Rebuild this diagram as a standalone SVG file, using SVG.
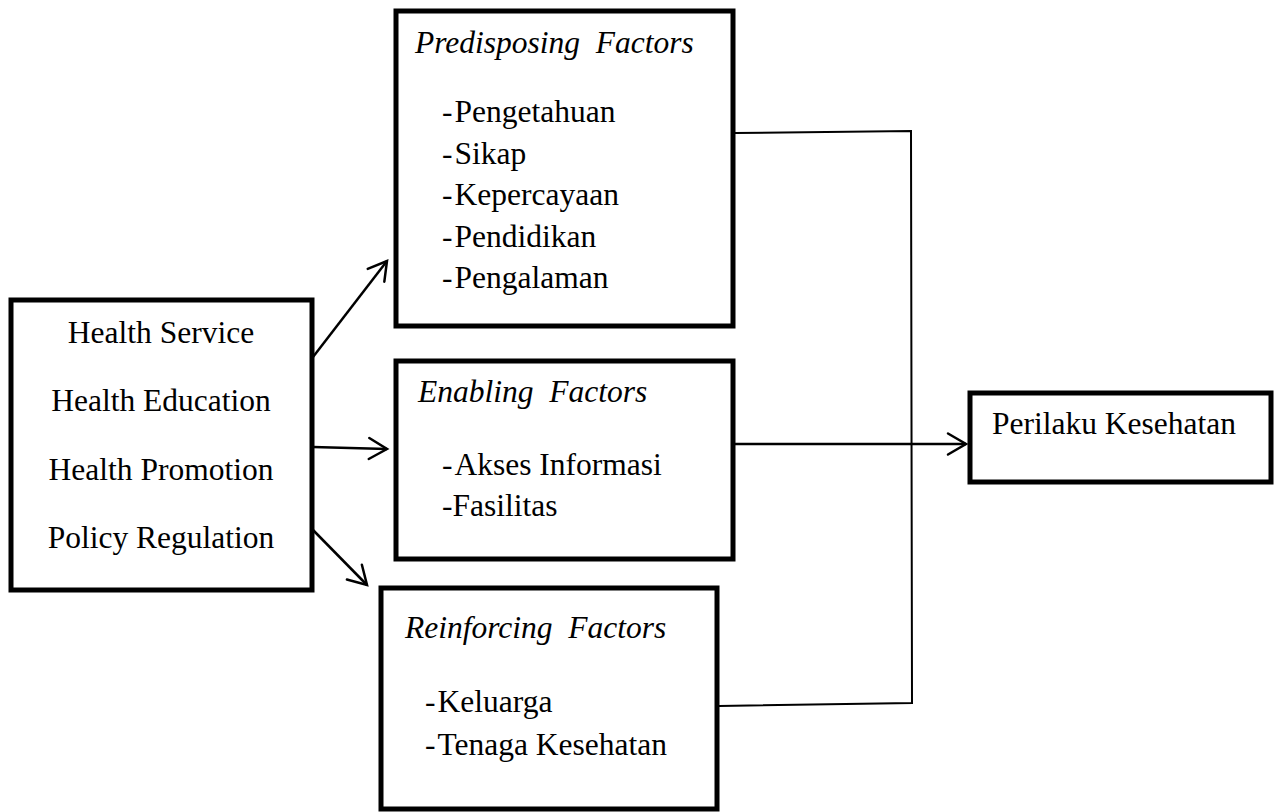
<svg xmlns="http://www.w3.org/2000/svg" width="1278" height="812" viewBox="0 0 1278 812">
<style>
  .box { fill: #ffffff; stroke: #000000; stroke-width: 5; }
  .t { font-family: "Liberation Serif", "Times New Roman", serif; font-size: 31.5px; fill: #000000; }
  .h { font-family: "Liberation Serif", "Times New Roman", serif; font-size: 31.5px; font-style: italic; fill: #000000; white-space: pre; }
  .c { text-anchor: middle; }
  .arrow { fill: none; stroke: #000000; stroke-width: 2.5; }
  .conn { fill: none; stroke: #000000; stroke-width: 2; }
</style>
<defs>
  <marker id="open" markerUnits="userSpaceOnUse" viewBox="-22 -13 24 26" refX="0" refY="0" markerWidth="24" markerHeight="26" orient="auto" overflow="visible">
    <path d="M -18 -10.5 L 0 0 L -18 10.5" fill="none" stroke="#000000" stroke-width="2.5" stroke-linecap="round" stroke-linejoin="miter"/>
  </marker>
</defs>
<rect width="1278" height="812" fill="#ffffff"/>

<g id="connectors">
  <line class="arrow" x1="313" y1="357" x2="387" y2="261" marker-end="url(#open)"/>
  <line class="arrow" x1="313" y1="447" x2="387" y2="449" marker-end="url(#open)"/>
  <line class="arrow" x1="313" y1="530" x2="367" y2="585" marker-end="url(#open)"/>
  <line class="arrow" x1="735" y1="444" x2="966" y2="444" marker-end="url(#open)"/>
  <polyline class="conn" points="735,133 911,131 912,703 719,706"/>
</g>

<g id="sources">
  <rect class="box" x="11" y="300" width="301" height="290"/>
  <text class="t c" x="161" y="343">Health Service</text>
  <text class="t c" x="161" y="411">Health Education</text>
  <text class="t c" x="161" y="480">Health Promotion</text>
  <text class="t c" x="161" y="548">Policy Regulation</text>
</g>

<g id="predisposing">
  <rect class="box" x="396" y="11" width="337" height="315"/>
  <text class="h" x="415" y="53" xml:space="preserve">Predisposing  Factors</text>
  <text class="t" x="442" y="122">-<tspan dx="2">Pengetahuan</tspan></text>
  <text class="t" x="442" y="163.5">-<tspan dx="2">Sikap</tspan></text>
  <text class="t" x="442" y="205">-<tspan dx="2">Kepercayaan</tspan></text>
  <text class="t" x="442" y="246.5">-<tspan dx="2">Pendidikan</tspan></text>
  <text class="t" x="442" y="288">-<tspan dx="2">Pengalaman</tspan></text>
</g>

<g id="enabling">
  <rect class="box" x="396" y="361" width="337" height="198"/>
  <text class="h" x="418" y="402" xml:space="preserve">Enabling  Factors</text>
  <text class="t" x="442" y="475">-<tspan dx="2">Akses Informasi</tspan></text>
  <text class="t" x="442" y="516">-Fasilitas</text>
</g>

<g id="reinforcing">
  <rect class="box" x="381" y="588" width="336" height="221"/>
  <text class="h" x="405" y="638" xml:space="preserve">Reinforcing  Factors</text>
  <text class="t" x="425" y="712">-<tspan dx="2">Keluarga</tspan></text>
  <text class="t" x="425" y="755">-<tspan dx="2">Tenaga Kesehatan</tspan></text>
</g>

<g id="perilaku">
  <rect class="box" x="970" y="393" width="301" height="89"/>
  <text class="t" x="992" y="434">Perilaku Kesehatan</text>
</g>
</svg>
